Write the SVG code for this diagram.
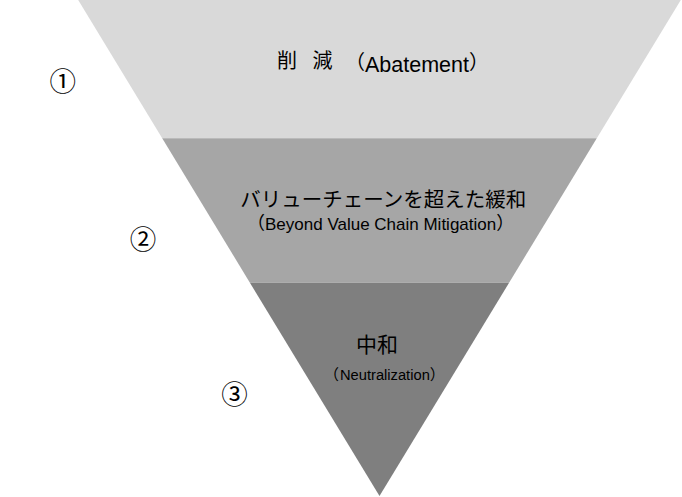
<svg xmlns="http://www.w3.org/2000/svg" width="682" height="497" viewBox="0 0 682 497">
  <style>
    .t { font-family: "Liberation Sans", "Noto Sans CJK JP", sans-serif; fill: #000000; }
    .num { font-family: "Noto Sans CJK JP", sans-serif; font-size: 26.5px; fill: #000000; text-anchor: middle; }
  </style>
  <rect x="0" y="0" width="682" height="497" fill="#ffffff"/>
  <g id="band-abatement">
    <polygon points="78.2,0 680.8,0 596.8,138.3 162.2,138.3" fill="#d9d9d9"/>
    <text class="t" font-size="20"><tspan x="277" y="68">削</tspan><tspan x="312.5" y="68">減</tspan><tspan x="345" y="69">（</tspan><tspan x="365" y="71.5" font-size="21.5">Abatement</tspan><tspan y="69">）</tspan></text>
  </g>
  <g id="band-bvcm">
    <polygon points="162.2,138.3 596.8,138.3 509.1,282.7 249.9,282.7" fill="#a6a6a6"/>
    <text class="t" font-size="20.5" x="383.3" y="207" text-anchor="middle">バリューチェーンを超えた緩和</text>
    <text class="t" font-size="18"><tspan x="247" y="229">（</tspan><tspan x="265" y="230" font-size="17">Beyond Value Chain Mitigation</tspan><tspan y="229">）</tspan></text>
  </g>
  <g id="band-neutralization">
    <polygon points="249.9,282.7 509.1,282.7 379.5,496" fill="#7f7f7f"/>
    <text class="t" font-size="21" x="356" y="351.5">中和</text>
    <text class="t" font-size="15"><tspan x="324" y="379.5">（</tspan><tspan x="340" y="380" font-size="14.7">Neutralization</tspan><tspan y="379.5">）</tspan></text>
  </g>
  <g id="labels">
    <text class="num" x="62.7" y="91.3">①</text>
    <text class="num" x="143" y="249.3">②</text>
    <text class="num" x="234.5" y="403.6">③</text>
  </g>
</svg>
